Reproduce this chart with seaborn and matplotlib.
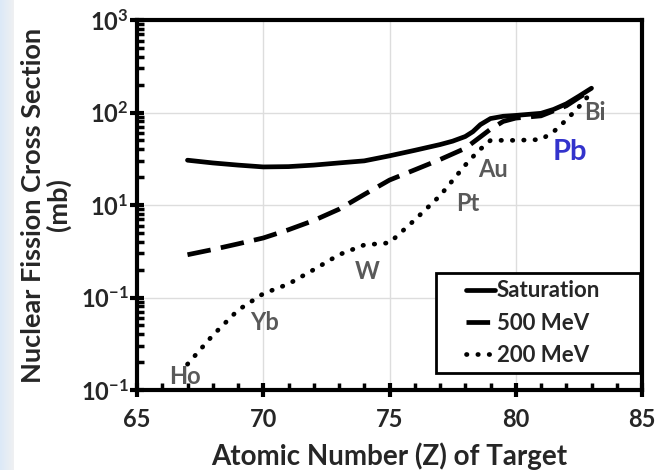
import numpy as np
import pandas as pd
import matplotlib.pyplot as plt
import matplotlib.ticker as mticker
from matplotlib.patches import Rectangle
import seaborn as sns

# Datos
z_sat = [67, 68, 69, 70, 71, 72, 73, 74, 75, 76, 77, 77.5, 78, 78.3, 78.6, 79, 79.5, 80, 81, 81.5, 82, 82.5, 83]
sat = [30.5, 28.5, 27, 25.8, 26, 27, 28.5, 30, 34, 39, 45, 49, 55, 62, 74, 86, 91, 93, 98, 108, 124, 150, 183]

z_500 = [67, 68, 69, 70, 71, 72, 73, 74, 75, 76, 77, 78, 78.5, 79, 79.5, 80, 81, 82, 82.5, 83]
mev500 = [2.9, 3.3, 3.8, 4.4, 5.4, 6.8, 9, 13, 18.6, 24, 31, 41, 52, 66, 80, 87, 92, 118, 145, 175]

z_200 = [67, 68, 69, 70, 71, 72, 73, 74, 75, 76, 77, 78, 78.5, 79, 80, 81, 81.5, 82, 82.5, 83]
mev200 = [0.19, 0.39, 0.73, 1.1, 1.4, 2.0, 2.9, 3.7, 3.9, 6.9, 12.6, 27, 38, 50, 50, 51, 62, 83, 115, 165]

elementos = ['Ho', 'Yb', 'W', 'Pt', 'Au', 'Bi']
elem_z = [66.9, 70.05, 74.1, 78.1, 79.1, 83.15]
elem_y = [0.14, 0.54, 1.9, 10.5, 24, 101]

y_ticks = [1e3, 1e2, 1e1, 1e0, 1e-1]
y_labels = ['$10^3$', '$10^2$', '$10^1$', '$10^{-1}$', '$10^{-1}$']

sns.set_theme(style="whitegrid")
plt.rcParams['font.family'] = ['Lato', 'DejaVu Sans']
plt.rcParams['mathtext.fontset'] = 'custom'
plt.rcParams['mathtext.rm'] = 'Lato:bold'
plt.rcParams['mathtext.it'] = 'Lato:bold'

fig = plt.figure(figsize=(6.57, 4.70), dpi=100)
fig.patch.set_facecolor('white')

# franja azul a la izquierda
bg = fig.add_axes([0, 0, 14 / 657, 1])
bg.imshow(np.linspace(0, 1, 50)[None, :], aspect='auto', cmap=sns.light_palette('#dce9f8', as_cmap=True, reverse=True),
          extent=[0, 1, 0, 1])
bg.axis('off')

ax = fig.add_axes([137 / 657, 1 - 390 / 470, 505 / 657, 370 / 470])
ax.set_facecolor('white')

sns.lineplot(x=z_sat, y=sat, ax=ax, color='black', lw=3.4, label='Saturation')
sns.lineplot(x=z_500, y=mev500, ax=ax, color='black', lw=3.4, label='500 MeV')
ax.lines[-1].set_dashes([5, 2.2])
sns.lineplot(x=z_200, y=mev200, ax=ax, color='black', lw=3.4, label='200 MeV')
ax.lines[-1].set_linestyle((0, (0.1, 2.3)))
ax.lines[-1].set_dash_capstyle('round')

ax.set_yscale('log')
ax.set_xlim(65, 85)
ax.set_ylim(0.1, 1000)
ax.set_xticks([65, 70, 75, 80, 85])
ax.xaxis.set_minor_locator(mticker.MultipleLocator(1))
ax.set_yticks(y_ticks)
ax.set_yticklabels(y_labels)
ax.yaxis.set_minor_locator(mticker.LogLocator(base=10, subs=np.arange(2, 10)))
ax.yaxis.set_minor_formatter(mticker.NullFormatter())

ax.grid(True, which='major', color='#dddddd', lw=1)
ax.grid(False, which='minor')
for s in ax.spines.values():
    s.set_color('black')
    s.set_linewidth(3)

ax.tick_params(axis='x', which='major', direction='inout', length=10, width=3, color='black',
               labelsize=17, pad=8, bottom=True)
ax.tick_params(axis='y', which='major', direction='inout', length=10, width=3, color='black',
               labelsize=17, pad=1, left=True)
ax.tick_params(which='minor', direction='in', length=5, width=2.5, color='black', left=True, bottom=True)
for lbl in ax.get_xticklabels() + ax.get_yticklabels():
    lbl.set_fontweight('bold')

ax.set_xlabel('Atomic Number (Z) of Target', fontsize=20, fontweight='bold', labelpad=8)
ax.set_ylabel('Nuclear Fission Cross Section\n(mb)', fontsize=19.5, fontweight='bold',
              linespacing=1.05, ha='center', va='center', rotation_mode='anchor')
ax.yaxis.set_label_coords(-0.180, 0.5)

for nombre, zx, zy in zip(elementos, elem_z, elem_y):
    ax.text(zx, zy, nombre, fontsize=17, fontweight='bold', color='#595959', ha='center', va='center')
ax.text(82.15, 37.4, 'Pb', fontsize=21, fontweight='bold', color='#3333cc', ha='center', va='center')

# marco de la leyenda
ax.add_patch(Rectangle((0.592, 0.046), 0.404, 0.27, transform=ax.transAxes, facecolor='white',
                       edgecolor='black', lw=2, zorder=4))
leg = ax.legend(loc='center left', bbox_to_anchor=(0.651, 0.181), frameon=False, fontsize=16,
                handlelength=1.3, handletextpad=0.1, borderpad=0, labelspacing=0.5, borderaxespad=0)
leg.set_zorder(5)
for t in leg.get_texts():
    t.set_fontweight('bold')

fig.savefig('out.png', dpi=100)
